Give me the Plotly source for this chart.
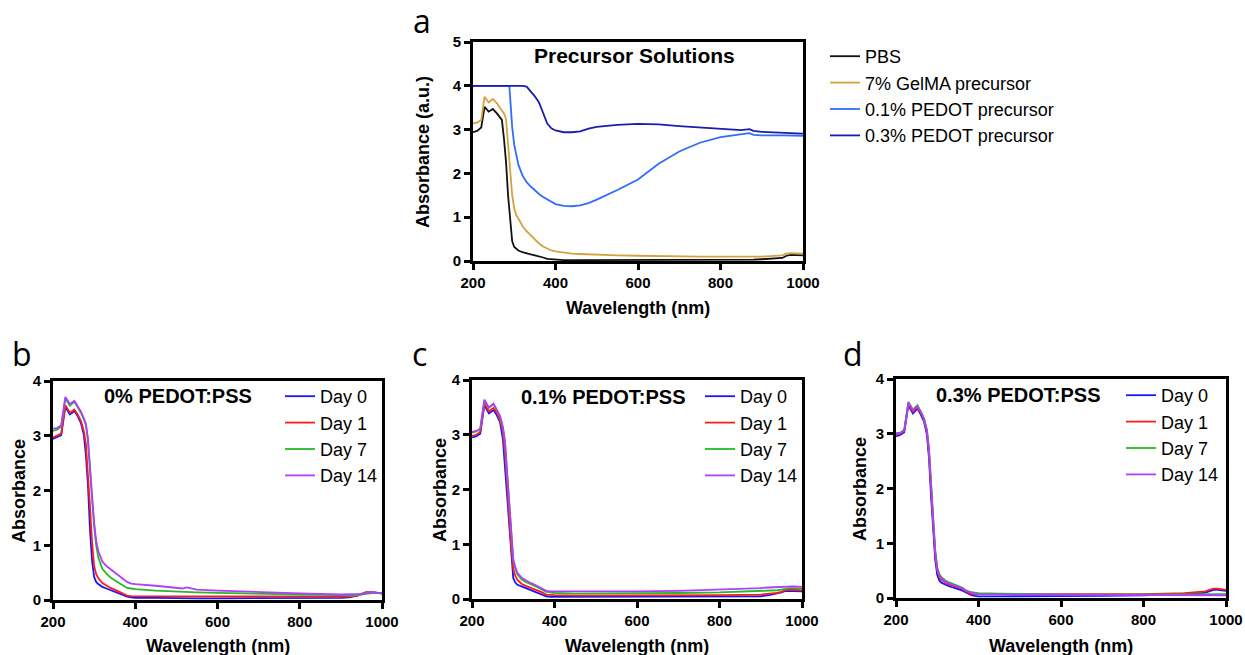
import plotly.graph_objects as go

W, H = 1245, 655

# ---- panel a: precursor solutions ----
wl_a = [200, 210, 220, 228, 238, 248, 258, 270, 275, 280, 285, 288, 290, 295, 300,
        305, 310, 320, 330, 340, 350, 360, 370, 380, 390, 400, 420, 440, 460, 480,
        500, 550, 600, 650, 700, 750, 800, 850, 870, 880, 900, 950, 960, 970, 1000]
pbs = [2.94, 2.97, 3.05, 3.52, 3.41, 3.47, 3.37, 3.22, 2.80, 2.27, 1.50, 1.15, 0.90, 0.45, 0.32,
       0.27, 0.24, 0.20, 0.17, 0.15, 0.13, 0.11, 0.08, 0.05, 0.04, 0.03, 0.02, 0.02, 0.02, 0.02,
       0.02, 0.02, 0.02, 0.02, 0.02, 0.02, 0.03, 0.03, 0.03, 0.03, 0.04, 0.07, 0.12, 0.14, 0.13]
gelma = [3.14, 3.16, 3.22, 3.75, 3.62, 3.70, 3.60, 3.45, 3.37, 3.25, 2.65, 2.20, 1.95, 1.50, 1.20,
         1.05, 0.97, 0.80, 0.68, 0.58, 0.48, 0.40, 0.33, 0.28, 0.24, 0.22, 0.19, 0.17, 0.16, 0.15,
         0.14, 0.13, 0.12, 0.11, 0.11, 0.10, 0.10, 0.10, 0.10, 0.10, 0.10, 0.13, 0.17, 0.18, 0.17]
pedot01 = [4.0, 4.0, 4.0, 4.0, 4.0, 4.0, 4.0, 4.0, 4.0, 4.0, 4.0, 4.0, 3.75, 3.05, 2.65,
           2.40, 2.20, 1.95, 1.80, 1.70, 1.61, 1.53, 1.46, 1.40, 1.34, 1.30, 1.26, 1.25, 1.27, 1.32,
           1.40, 1.62, 1.86, 2.22, 2.50, 2.70, 2.83, 2.89, 2.92, 2.88, 2.87, 2.87, 2.87, 2.86, 2.86]
pedot03 = [4.0, 4.0, 4.0, 4.0, 4.0, 4.0, 4.0, 4.0, 4.0, 4.0, 4.0, 4.0, 4.0, 4.0, 4.0,
           4.0, 4.0, 4.0, 3.98, 3.88, 3.76, 3.62, 3.38, 3.14, 3.03, 2.98, 2.94, 2.94, 2.96, 3.02,
           3.06, 3.11, 3.13, 3.12, 3.08, 3.05, 3.02, 2.99, 3.01, 2.97, 2.95, 2.94, 2.93, 2.92, 2.91]

# ---- panels b-d: gels over 14 days ----
wl = [200, 210, 220, 230, 241, 252, 260, 268, 275, 280, 285, 290, 295, 300, 305, 310, 320, 330,
      340, 350, 360, 370, 380, 390, 400, 450, 500, 515, 525, 550, 600, 700, 800, 900, 920, 940,
      950, 960, 970, 980, 1000]

b_day0 = [2.94, 2.97, 3.01, 3.53, 3.39, 3.45, 3.36, 3.23, 3.02, 2.65, 2.10, 1.28, 0.72, 0.42, 0.33, 0.29, 0.24, 0.21,
          0.18, 0.16, 0.13, 0.10, 0.06, 0.05, 0.04, 0.04, 0.03, 0.03, 0.03, 0.03, 0.03, 0.03, 0.03, 0.04, 0.05, 0.08,
          0.11, 0.14, 0.14, 0.14, 0.12]
b_day1 = [2.97, 3.00, 3.04, 3.56, 3.42, 3.48, 3.39, 3.27, 3.08, 2.85, 2.35, 1.70, 1.05, 0.62, 0.47, 0.40, 0.31, 0.26,
          0.22, 0.19, 0.15, 0.12, 0.08, 0.07, 0.07, 0.06, 0.06, 0.06, 0.06, 0.06, 0.06, 0.06, 0.06, 0.06, 0.06, 0.08,
          0.11, 0.14, 0.14, 0.14, 0.12]
b_day7 = [3.09, 3.11, 3.17, 3.68, 3.55, 3.62, 3.52, 3.42, 3.30, 3.20, 2.90, 2.45, 1.85, 1.35, 1.00, 0.78, 0.57, 0.48,
          0.41, 0.36, 0.31, 0.26, 0.22, 0.21, 0.20, 0.17, 0.15, 0.15, 0.15, 0.14, 0.13, 0.11, 0.10, 0.09, 0.08, 0.09,
          0.10, 0.12, 0.13, 0.13, 0.12]
b_day14 = [3.13, 3.14, 3.19, 3.71, 3.58, 3.64, 3.54, 3.44, 3.32, 3.22, 2.95, 2.50, 1.90, 1.42, 1.08, 0.90, 0.70, 0.62,
           0.56, 0.50, 0.45, 0.38, 0.33, 0.30, 0.29, 0.26, 0.22, 0.21, 0.23, 0.19, 0.17, 0.14, 0.12, 0.10, 0.10, 0.10,
           0.11, 0.13, 0.14, 0.14, 0.12]

c_day0 = [2.95, 2.97, 3.02, 3.54, 3.39, 3.45, 3.36, 3.23, 2.91, 2.40, 1.80, 1.25, 0.75, 0.38, 0.30, 0.26, 0.23, 0.20,
          0.17, 0.15, 0.12, 0.09, 0.05, 0.04, 0.04, 0.04, 0.04, 0.04, 0.04, 0.04, 0.04, 0.04, 0.04, 0.05, 0.07, 0.10,
          0.12, 0.15, 0.15, 0.15, 0.14]
c_day1 = [2.98, 3.00, 3.05, 3.57, 3.43, 3.49, 3.40, 3.27, 3.05, 2.65, 2.10, 1.50, 0.95, 0.55, 0.42, 0.35, 0.28, 0.24,
          0.21, 0.19, 0.16, 0.12, 0.08, 0.07, 0.07, 0.06, 0.06, 0.06, 0.06, 0.06, 0.06, 0.06, 0.07, 0.08, 0.09, 0.11,
          0.13, 0.16, 0.17, 0.17, 0.16]
c_day7 = [3.04, 3.06, 3.10, 3.63, 3.49, 3.56, 3.45, 3.32, 3.12, 2.85, 2.30, 1.70, 1.10, 0.70, 0.55, 0.45, 0.36, 0.31,
          0.28, 0.25, 0.21, 0.17, 0.13, 0.12, 0.11, 0.10, 0.10, 0.10, 0.10, 0.10, 0.10, 0.11, 0.12, 0.14, 0.15, 0.16,
          0.17, 0.19, 0.20, 0.20, 0.19]
c_day14 = [3.05, 3.07, 3.11, 3.64, 3.50, 3.57, 3.46, 3.34, 3.14, 2.88, 2.33, 1.73, 1.13, 0.73, 0.58, 0.48, 0.39, 0.34,
           0.30, 0.27, 0.23, 0.19, 0.15, 0.14, 0.14, 0.13, 0.13, 0.13, 0.13, 0.13, 0.14, 0.15, 0.17, 0.20, 0.21, 0.22,
           0.22, 0.23, 0.23, 0.23, 0.22]

d_day0 = [2.95, 2.98, 3.03, 3.52, 3.37, 3.46, 3.35, 3.22, 2.98, 2.55, 1.85, 1.15, 0.70, 0.42, 0.32, 0.28, 0.24, 0.21,
          0.19, 0.17, 0.14, 0.10, 0.06, 0.04, 0.03, 0.03, 0.03, 0.03, 0.03, 0.03, 0.04, 0.04, 0.05, 0.07, 0.08, 0.09,
          0.10, 0.13, 0.15, 0.15, 0.13]
d_day1 = [2.98, 3.00, 3.05, 3.55, 3.40, 3.48, 3.38, 3.25, 3.03, 2.65, 2.00, 1.30, 0.80, 0.50, 0.38, 0.33, 0.28, 0.24,
          0.22, 0.20, 0.17, 0.12, 0.08, 0.07, 0.07, 0.06, 0.06, 0.06, 0.06, 0.06, 0.06, 0.06, 0.07, 0.09, 0.10, 0.11,
          0.12, 0.15, 0.17, 0.17, 0.15]
d_day7 = [3.01, 3.02, 3.07, 3.58, 3.44, 3.52, 3.41, 3.28, 3.07, 2.72, 2.10, 1.40, 0.88, 0.56, 0.44, 0.38, 0.32, 0.28,
          0.25, 0.22, 0.19, 0.14, 0.11, 0.10, 0.09, 0.08, 0.07, 0.07, 0.07, 0.07, 0.06, 0.06, 0.06, 0.07, 0.07, 0.07,
          0.07, 0.07, 0.07, 0.07, 0.07]
d_day14 = [3.00, 3.01, 3.06, 3.57, 3.43, 3.50, 3.40, 3.27, 3.06, 2.70, 2.07, 1.37, 0.85, 0.53, 0.41, 0.36, 0.30, 0.26,
           0.23, 0.21, 0.18, 0.13, 0.10, 0.08, 0.07, 0.06, 0.06, 0.06, 0.06, 0.06, 0.05, 0.05, 0.05, 0.05, 0.05, 0.05,
           0.05, 0.05, 0.05, 0.05, 0.05]

day_names = ['Day 0', 'Day 1', 'Day 7', 'Day 14']
day_colors = ['#1515ff', '#ff1a1a', '#22bb22', '#b23cff']

FONT = 'Liberation Sans'


def X(px):
    # page pixel -> paper
    return px / W


def Y(py):
    return 1 - py / H


fig = go.Figure()

# panel a traces
a_series = [('PBS', pbs, '#111111'), ('7% GelMA precursor', gelma, '#d6a23f'),
            ('0.1% PEDOT precursor', pedot01, '#2f6dff'), ('0.3% PEDOT precursor', pedot03, '#1c1cae')]
for name, vals, col in a_series:
    fig.add_trace(go.Scatter(x=wl_a, y=vals, name=name, mode='lines', line=dict(color=col, width=1.8),
                             xaxis='x', yaxis='y', legend='legend'))

# panels b-d
panels = [('x2', 'y2', 'legend2', [b_day0, b_day1, b_day7, b_day14]),
          ('x3', 'y3', 'legend3', [c_day0, c_day1, c_day7, c_day14]),
          ('x4', 'y4', 'legend4', [d_day0, d_day1, d_day7, d_day14])]
for xa, ya, lg, series in panels:
    for name, vals, col in zip(day_names, series, day_colors):
        fig.add_trace(go.Scatter(x=wl, y=vals, name=name, mode='lines', line=dict(color=col, width=1.8),
                                 xaxis=xa, yaxis=ya, legend=lg))

# plot boxes in page pixels: left, right, top, bottom
boxes = [(473, 803, 42, 261), (53, 382, 381, 600), (472, 802, 380, 599), (896, 1226, 379, 598)]


def ax_style(**kw):
    d = dict(showline=True, linewidth=3, linecolor='black', mirror=True, ticks='outside',
             ticklen=6, tickwidth=2.5, tickcolor='black', showgrid=False, zeroline=False,
             tickfont=dict(family=FONT, size=15, color='black', weight='bold'))
    d.update(kw)
    return d


lay = {}
for i, (l, r, t, b) in enumerate(boxes):
    s = '' if i == 0 else str(i + 1)
    ytop = 5 if i == 0 else 4
    lay['xaxis' + s] = ax_style(domain=[X(l), X(r)], range=[200, 1000], tickvals=[200, 400, 600, 800, 1000],
                                anchor='y' + s)
    lay['yaxis' + s] = ax_style(domain=[Y(b), Y(t)], range=[0, ytop], tickvals=list(range(ytop + 1)),
                                anchor='x' + s)

leg_font = dict(family=FONT, size=18, color='black')
lay['legend'] = dict(x=X(825), y=Y(38), xanchor='left', yanchor='top', font=leg_font, bgcolor='rgba(0,0,0,0)')
lay['legend2'] = dict(x=X(280), y=Y(378), xanchor='left', yanchor='top', font=leg_font, bgcolor='rgba(0,0,0,0)')
lay['legend3'] = dict(x=X(700), y=Y(378), xanchor='left', yanchor='top', font=leg_font, bgcolor='rgba(0,0,0,0)')
lay['legend4'] = dict(x=X(1121), y=Y(377), xanchor='left', yanchor='top', font=leg_font, bgcolor='rgba(0,0,0,0)')

bold = lambda size: dict(family=FONT, size=size, color='black', weight='bold')
ann = []


def text(s, px, py, font, angle=0):
    ann.append(dict(text=s, x=X(px), y=Y(py), xref='paper', yref='paper', showarrow=False,
                    xanchor='center', yanchor='middle', font=font, textangle=angle))


# axis titles
text('Wavelength (nm)', 638, 308, bold(18))
text('Absorbance (a.u.)', 423, 152, bold(18), -90)
text('Wavelength (nm)', 218, 646, bold(18))
text('Absorbance', 19, 491, bold(18), -90)
text('Wavelength (nm)', 637, 646, bold(18))
text('Absorbance', 440, 490, bold(18), -90)
text('Wavelength (nm)', 1061, 646, bold(18))
text('Absorbance', 860, 489, bold(18), -90)

# panel titles
text('Precursor Solutions', 634, 56, bold(21))
text('0% PEDOT:PSS', 178, 396, bold(20))
text('0.1% PEDOT:PSS', 603, 397, bold(20))
text('0.3% PEDOT:PSS', 1018, 395, bold(20))

# panel letters
letter = dict(family='Open Sans', size=32, color='black')
text('a', 422, 20, letter)
text('b', 22, 354, letter)
text('c', 420, 354, letter)
text('d', 853, 354, letter)

fig.update_layout(**lay)
fig.update_layout(annotations=ann, width=W, height=H, margin=dict(l=0, r=0, t=0, b=0),
                  plot_bgcolor='white', paper_bgcolor='white', template='none',
                  font=dict(family=FONT, color='black'))

# drop the default 8px body margin so the figure fills the window
fig.write_html("out.html", config={'displayModeBar': False},
               post_script="document.body.style.margin='0';document.body.style.overflow='hidden';")
